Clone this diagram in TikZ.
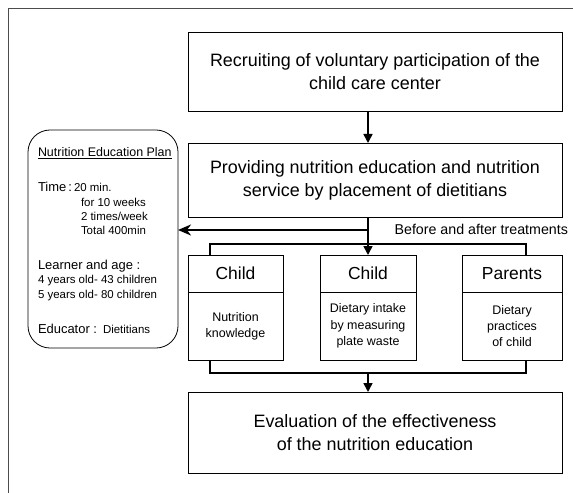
\documentclass[tikz,border=0pt]{standalone}
\usepackage{fontspec}
\setmainfont{Liberation Sans}
\usetikzlibrary{arrows.meta}
\begin{document}
\begin{tikzpicture}[x=1bp,y=-1bp,line width=0.8pt,
  every node/.style={inner sep=0pt,outer sep=0pt},
  bigbox/.style={draw,minimum width=374bp,align=center,font=\fontsize{18}{23}\selectfont},
  hdr/.style={draw,minimum height=37bp,font=\fontsize{17.5}{20}\selectfont},
  body/.style={draw,minimum height=68bp,align=center,font=\fontsize{12.5}{16.5}\selectfont},
  lbl/.style={anchor=base west,font=\fontsize{13}{15}\selectfont},
  sml/.style={anchor=base west,font=\fontsize{11.5}{14}\selectfont},
  link/.style={line width=1.6pt},
  arr/.style={link,-{Triangle[length=9bp,width=9bp]}}]
\useasboundingbox (0,0) rectangle (573,493);
\draw[line width=0.5pt,black!70] (8,493) -- (8,8) -- (573,8);
% main column
\node[bigbox,minimum height=79bp] (recruit) at (375,71.5) {Recruiting of voluntary participation of the\\child care center};
\node[bigbox,minimum height=74bp] (provide) at (375,180) {Providing nutrition education and nutrition\\service by placement of dietitians};
\node[bigbox,minimum height=81bp] (evaluate) at (375,432.5) {Evaluation of the effectiveness\\of the nutrition education};
% measurements
\node[hdr,minimum width=95bp] (kidA) at (235.5,273.5) {Child};
\node[body,minimum width=95bp] (kidAbody) at (235.5,326) {Nutrition\\knowledge};
\node[hdr,minimum width=96bp] (kidB) at (368,273.5) {Child};
\node[body,minimum width=96bp] (kidBbody) at (368,326) {Dietary intake\\by measuring\\plate waste};
\node[hdr,minimum width=100bp] (parent) at (512,273.5) {Parents};
\node[body,minimum width=100bp] (parentbody) at (512,326) {Dietary\\practices\\of child};
% plan
\node[draw,rounded corners=22bp,minimum width=150bp,minimum height=218bp] (plan) at (103,239) {};
\node[lbl,font=\fontsize{12.5}{15}\selectfont] (planhead) at (38,157) {\underline{Nutrition Education Plan}};
\node[lbl] (time) at (38,192) {Time\,:};
\node[sml] (timeA) at (74,192) {20 min.};
\node[sml] (timeB) at (81,207) {for 10 weeks};
\node[sml] (timeC) at (81,221) {2 times/week};
\node[sml] (timeD) at (81,234) {Total 400min};
\node[lbl] (learner) at (38,269) {Learner and age :};
\node[sml] (ageA) at (38,283) {4 years old- 43 children};
\node[sml] (ageB) at (38,298) {5 years old- 80 children};
\node[lbl] (educator) at (38,333) {Educator :};
\node[sml] (educatorB) at (103,333) {Dietitians};
% connectors
\coordinate (split) at (368,230);
\draw[arr] (recruit.south -| kidB) -- (provide.north -| kidB);
\draw[link] (provide.south -| kidB) -- (split);
\draw[arr] (split) -- (kidB.north);
\draw[link,-{Stealth[length=13bp,width=11bp,inset=4bp]}] (split) -- (split -| plan.east);
\node[anchor=base east,font=\fontsize{14.3}{16}\selectfont] (before) at (568,234) {Before and after treatments};
\coordinate (topL) at (210,244);
\coordinate (topR) at (526,244);
\draw[link] (topL |- kidA.north) -- (topL) -- (topR) -- (topR |- parent.north);
\coordinate (botL) at (210,373);
\coordinate (botR) at (526,373);
\draw[link] (botL |- kidAbody.south) -- (botL) -- (botR) -- (botR |- parentbody.south);
\draw[arr] (botL -| kidB) -- (evaluate.north -| kidB);
\end{tikzpicture}
\end{document}
